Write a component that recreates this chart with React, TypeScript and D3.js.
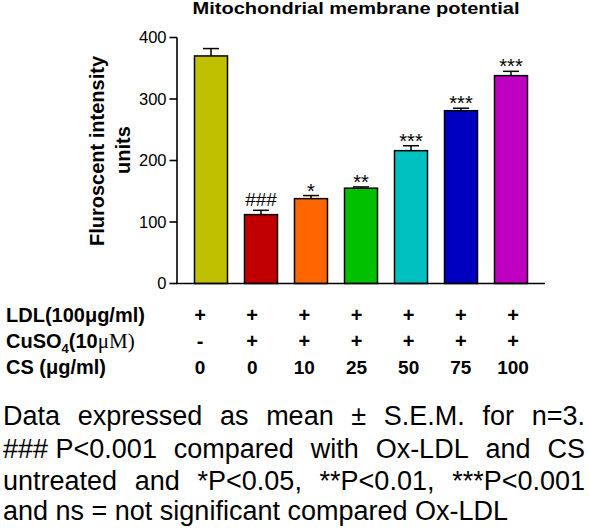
import React, { useMemo } from "react";
import * as d3 from "d3";

const categories = ["LDL", "Ox-LDL", "CS10", "CS25", "CS50", "CS75", "CS100"];
const means = [370, 112, 138, 155, 216, 281, 338];
const sems = [12, 7, 5, 2, 8, 4, 7];
const barColors = ["#C0C000", "#C00000", "#FF6600", "#00C000", "#00C0C0", "#0000C0", "#C000C0"];
const sigLabels = ["", "###", "*", "**", "***", "***", "***"];
const yTicks = [0, 100, 200, 300, 400];
const ldlRow = ["+", "+", "+", "+", "+", "+", "+"];
const cuso4Row = ["-", "+", "+", "+", "+", "+", "+"];
const csRow = ["0", "0", "10", "25", "50", "75", "100"];
const title = "Mitochondrial membrane potential";
const yLabel1 = "Fluroscent intensity";
const yLabel2 = "units";
const footLines = [
  ["Data", "expressed", "as", "mean", "±", "S.E.M.", "for", "n=3."],
  ["### P<0.001", "compared", "with", "Ox-LDL", "and", "CS"],
  ["untreated", "and", "*P<0.05,", "**P<0.01,", "***P<0.001"],
  ["and", "ns", "=", "not", "significant", "compared", "Ox-LDL"],
];

const W = 589;
const H = 528;
const SANS = "'Liberation Sans', Arial, Helvetica, sans-serif";

export default function App() {
  const x = d3.scaleBand<string>().domain(categories).range([177, 545]).paddingInner(0.34).paddingOuter(0.35);
  const y = d3.scaleLinear().domain([0, 400]).range([283.5, 37.5]);
  const col = d3.scalePoint<string>().domain(categories).range([200, 513]);

  const footLayout = useMemo(() => {
    const canvas = document.createElement("canvas");
    const ctx = canvas.getContext("2d")!;
    ctx.font = "27px 'Liberation Sans'";
    const left = 3;
    const right = 585;
    const space = ctx.measureText(" ").width;
    return footLines.map((words, li) => {
      const widths = words.map((w) => ctx.measureText(w).width);
      const total = widths.reduce((a, b) => a + b, 0);
      const last = li === footLines.length - 1;
      const gap = last ? space : (right - left - total) / (words.length - 1);
      let cx = left;
      return words.map((w, i) => {
        const px = cx;
        cx += widths[i] + gap;
        return { w, x: px };
      });
    });
  }, []);

  const footBaselines = [425, 458, 490, 520];
  const rowBaselines = [322, 348, 374];

  return (
    <svg width={W} height={H} style={{ position: "absolute", left: 0, top: 0, background: "#fff" }}>
      <rect width={W} height={H} fill="#fff" />
      <text x={356} y={14} textAnchor="middle" fontFamily={SANS} fontWeight="bold" fontSize={17} textLength={327} lengthAdjust="spacingAndGlyphs">
        {title}
      </text>

      {/* y axis label */}
      <g transform="translate(104,151) rotate(-90)">
        <text x={0} y={0} textAnchor="middle" fontFamily={SANS} fontWeight="bold" fontSize={20}>{yLabel1}</text>
      </g>
      <g transform="translate(130,150) rotate(-90)">
        <text x={0} y={0} textAnchor="middle" fontFamily={SANS} fontWeight="bold" fontSize={20}>{yLabel2}</text>
      </g>

      {/* bars */}
      {categories.map((c, i) => {
        const x0 = x(c)!;
        const bw = x.bandwidth();
        const cx = x0 + bw / 2;
        const top = y(means[i]);
        const et = y(means[i] + sems[i]);
        return (
          <g key={c}>
            <line x1={cx} x2={cx} y1={top} y2={et} stroke="#000" strokeWidth={1.5} />
            <line x1={cx - 8} x2={cx + 8} y1={et} y2={et} stroke="#000" strokeWidth={1.5} />
            <rect x={x0} y={top} width={bw} height={y(0) - top} fill={barColors[i]} stroke="#000" strokeWidth={1.5} />
            {sigLabels[i] && (
              <text
                x={cx}
                y={sigLabels[i].startsWith("#") ? et - 4 : et + 2}
                textAnchor="middle"
                fontFamily={SANS}
                fontSize={sigLabels[i].startsWith("#") ? 19 : 20}
              >
                {sigLabels[i]}
              </text>
            )}
          </g>
        );
      })}

      {/* axes */}
      <line x1={177} x2={177} y1={y(400)} y2={y(0)} stroke="#000" strokeWidth={1.6} />
      <line x1={176.2} x2={545} y1={y(0)} y2={y(0)} stroke="#000" strokeWidth={1.6} />
      {yTicks.map((t) => (
        <g key={t}>
          <line x1={169.5} x2={177} y1={y(t)} y2={y(t)} stroke="#000" strokeWidth={1.6} />
          <text x={166.5} y={y(t) + 5.6} textAnchor="end" fontFamily={SANS} fontSize={16.5}>
            {t}
          </text>
        </g>
      ))}

      {/* table */}
      <text x={6} y={rowBaselines[0]} fontFamily={SANS} fontWeight="bold" fontSize={20}>LDL(100μg/ml)</text>
      <text x={6} y={rowBaselines[1]} fontFamily={SANS} fontWeight="bold" fontSize={20}>
        CuSO<tspan fontSize={13} dy={5}>4</tspan>
        <tspan dy={-5}>(10</tspan>
        <tspan fontFamily="'Liberation Serif', 'Times New Roman', serif" fontWeight="normal" fontSize={21}>μM)</tspan>
      </text>
      <text x={6} y={rowBaselines[2]} fontFamily={SANS} fontWeight="bold" fontSize={20}>CS (μg/ml)</text>
      {categories.map((c, i) => (
        <g key={"t" + c}>
          <text x={col(c)} y={rowBaselines[0]} textAnchor="middle" fontFamily={SANS} fontWeight="bold" fontSize={20}>{ldlRow[i]}</text>
          <text x={col(c)} y={rowBaselines[1]} textAnchor="middle" fontFamily={SANS} fontWeight="bold" fontSize={20}>{cuso4Row[i]}</text>
          <text x={col(c)} y={rowBaselines[2]} textAnchor="middle" fontFamily={SANS} fontWeight="bold" fontSize={19}>{csRow[i]}</text>
        </g>
      ))}

      {/* footnote */}
      {footLayout.map((line, li) => (
        <text key={li} y={footBaselines[li]} fontFamily={SANS} fontSize={27}>
          {line.map((wd, wi) => (
            <tspan key={wi} x={wd.x}>{wd.w}</tspan>
          ))}
        </text>
      ))}
    </svg>
  );
}
